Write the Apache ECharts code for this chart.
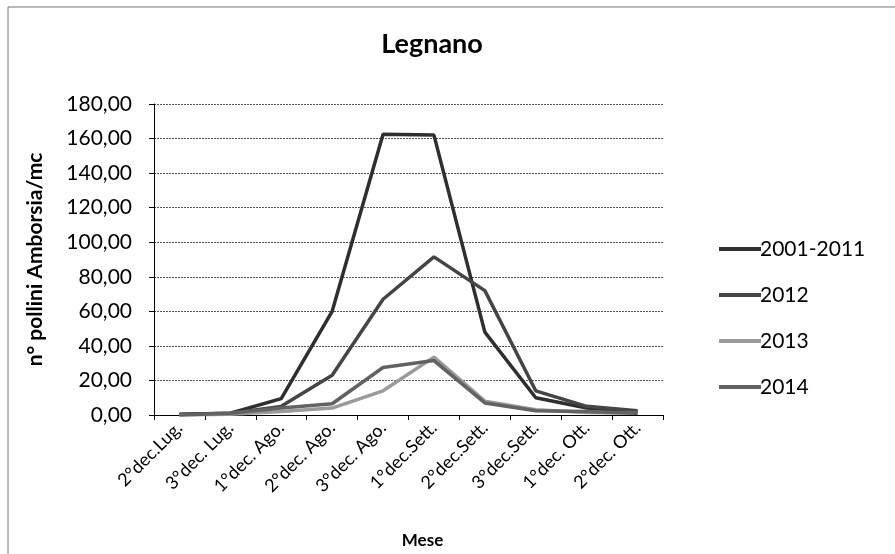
<!DOCTYPE html>
<html>
<head>
<meta charset="utf-8">
<script src="https://cdn.jsdelivr.net/npm/echarts@6/dist/echarts.min.js"></script>
<style>html,body{margin:0;padding:0;background:#fff;}#c{width:895px;height:554px;}</style>
</head>
<body>
<div id="c"></div>
<script>
const categories = ['2°dec.Lug.', '3°dec. Lug.', '1°dec. Ago.', '2°dec. Ago.', '3°dec. Ago.', '1°dec.Sett.', '2°dec.Sett.', '3°dec.Sett.', '1°dec. Ott.', '2°dec. Ott.'];
const s2001_2011 = [0.5, 1, 9.5, 60, 162.5, 162, 48, 10, 4, 2];
const s2012 = [0.3, 1, 5, 23, 67, 91.5, 72, 14, 5, 2.5];
const s2013 = [0, 0.5, 2, 4, 14, 33.5, 8, 3, 1.5, 1];
const s2014 = [0, 1, 4, 6.5, 27.5, 31.5, 7, 2.5, 2, 1];
const seriesNames = ['2001-2011', '2012', '2013', '2014'];
const yTicks = [0, 20, 40, 60, 80, 100, 120, 140, 160, 180];

const colors = ['#2f2f2f', '#454545', '#9a9a9a', '#626262'];
const FONT = 'Lato';

const chart = echarts.init(document.getElementById('c'));
const dataSets = [s2001_2011, s2012, s2013, s2014];
chart.setOption({
  animation: false,
  backgroundColor: '#fff',
  title: {
    text: 'Legnano', left: 427, top: 26, textAlign: 'center',
    textStyle: { fontFamily: FONT, fontWeight: 'bold', fontSize: 27, color: '#000' }
  },
  graphic: [
    { type: 'rect', shape: { x: 8, y: 7, width: 900, height: 600 }, style: { fill: 'none', stroke: '#777', lineWidth: 1 } }
  ],
  legend: {
    orient: 'vertical', left: 714, top: 233, itemGap: 24, itemWidth: 42, itemHeight: 4,
    icon: 'rect',
    textStyle: { fontFamily: FONT, fontSize: 21, lineHeight: 22, color: '#000', padding: [0, 0, 0, -6] },
    data: seriesNames
  },
  grid: { left: 154, right: 232, top: 104, bottom: 139, containLabel: false },
  xAxis: {
    type: 'category', data: categories, boundaryGap: true,
    name: 'Mese', nameLocation: 'middle', nameGap: 117,
    nameTextStyle: { fontFamily: FONT, fontWeight: 'bold', fontSize: 17, color: '#000', padding: [0, 0, 0, 28] },
    axisLine: { lineStyle: { color: '#000', width: 1 } },
    axisTick: { show: true, alignWithLabel: false, length: 5, lineStyle: { color: '#000' } },
    axisLabel: { rotate: 45, interval: 0, margin: 10, fontFamily: FONT, fontSize: 18, color: '#000' }
  },
  yAxis: {
    type: 'value', min: 0, max: 180, interval: 20,
    name: 'n° pollini Amborsia/mc', nameLocation: 'middle', nameGap: 108,
    nameTextStyle: { fontFamily: FONT, fontWeight: 'bold', fontSize: 21, color: '#000' },
    axisLine: { show: true, lineStyle: { color: '#000', width: 1 } },
    axisTick: { show: true, length: 5, lineStyle: { color: '#000' } },
    axisLabel: { margin: 22, fontFamily: FONT, fontSize: 21, color: '#000',
      formatter: v => yTicks.includes(v) ? v.toFixed(2).replace('.', ',') : '' },
    splitLine: { show: true, lineStyle: { color: '#555', width: 1, type: [2, 1] } }
  },
  series: seriesNames.map((n, i) => ({
    name: n, type: 'line', data: dataSets[i], symbol: 'none', smooth: false,
    lineStyle: { color: colors[i], width: 3.5 }, itemStyle: { color: colors[i] }
  }))
});
</script>
</body>
</html>
